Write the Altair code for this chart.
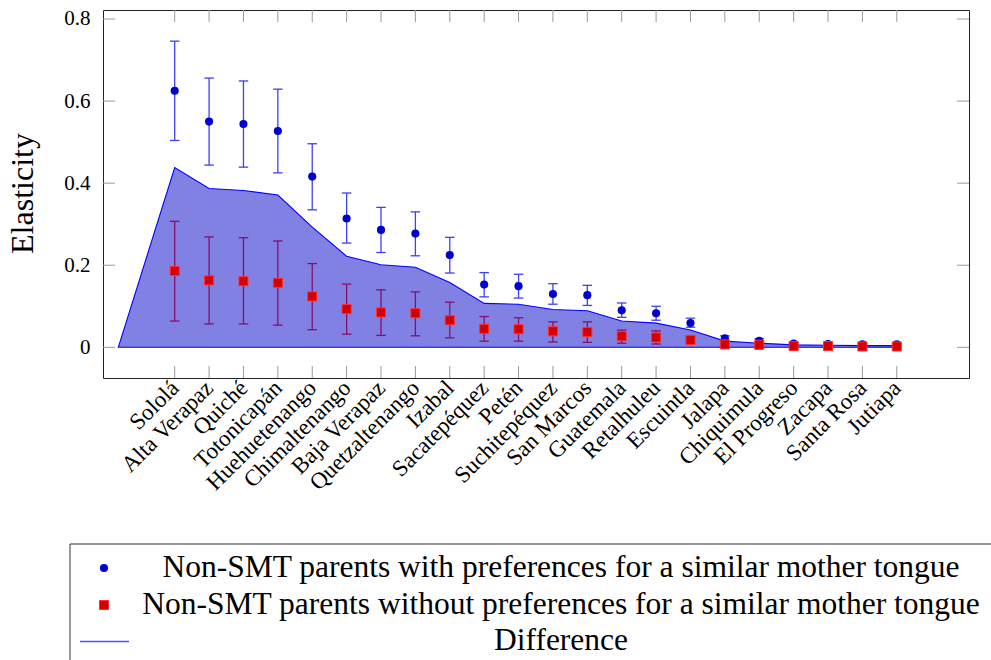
import json
import altair as alt
import pandas as pd

# ---------------- data ----------------
categories = ["Sololá", "Alta Verapaz", "Quiché", "Totonicapán", "Huehuetenango",
              "Chimaltenango", "Baja Verapaz", "Quetzaltenango", "Izabal", "Sacatepéquez",
              "Petén", "Suchitepéquez", "San Marcos", "Guatemala", "Retalhuleu", "Escuintla",
              "Jalapa", "Chiquimula", "El Progreso", "Zacapa", "Santa Rosa", "Jutiapa"]

with_pref = [0.625, 0.550, 0.544, 0.527, 0.416, 0.314, 0.286, 0.277, 0.225, 0.153, 0.149,
             0.130, 0.127, 0.090, 0.083, 0.059, 0.022, 0.016, 0.009, 0.008, 0.007, 0.007]
with_hi = [0.746, 0.656, 0.649, 0.629, 0.496, 0.376, 0.341, 0.330, 0.268, 0.182, 0.178,
           0.155, 0.151, 0.108, 0.100, 0.071, 0.028, 0.021, 0.012, 0.010, 0.009, 0.009]
with_lo = [0.504, 0.444, 0.439, 0.425, 0.335, 0.254, 0.231, 0.223, 0.181, 0.123, 0.120,
           0.105, 0.102, 0.073, 0.066, 0.049, 0.016, 0.011, 0.006, 0.005, 0.005, 0.005]

without_pref = [0.186, 0.163, 0.161, 0.157, 0.124, 0.093, 0.085, 0.083, 0.066, 0.045, 0.044,
                0.039, 0.037, 0.027, 0.024, 0.018, 0.007, 0.006, 0.003, 0.003, 0.002, 0.002]
without_hi = [0.307, 0.269, 0.267, 0.259, 0.204, 0.154, 0.140, 0.135, 0.110, 0.075, 0.072,
              0.062, 0.062, 0.042, 0.040, 0.025, 0.010, 0.009, 0.004, 0.004, 0.003, 0.003]
without_lo = [0.064, 0.057, 0.057, 0.054, 0.043, 0.032, 0.029, 0.028, 0.023, 0.015, 0.015,
              0.013, 0.012, 0.010, 0.008, 0.010, 0.004, 0.003, 0.002, 0.002, 0.001, 0.001]

difference = [0.438, 0.387, 0.382, 0.371, 0.293, 0.222, 0.201, 0.195, 0.158, 0.107, 0.105,
              0.092, 0.089, 0.064, 0.059, 0.042, 0.015, 0.010, 0.006, 0.005, 0.004, 0.004]
difference_start_x = -1.64   # first (zero) point of the Difference area
difference_start_y = 0.0

y_ticks = [0, 0.2, 0.4, 0.6, 0.8]

legend_labels = ["Non-SMT parents with preferences for a similar mother tongue",
                 "Non-SMT parents without preferences for a similar mother tongue",
                 "Difference"]

# ---------------- tables ----------------
n = len(categories)
df = pd.DataFrame({
    "idx": list(range(n)), "cat": categories,
    "with_pref": with_pref, "with_hi": with_hi, "with_lo": with_lo,
    "without_pref": without_pref, "without_hi": without_hi, "without_lo": without_lo,
})
diff_df = pd.DataFrame({"idx": [difference_start_x] + list(range(n)),
                        "diff": [difference_start_y] + difference})
ytick_df = pd.DataFrame({"v": y_ticks})

# ---------------- styling ----------------
FONT = "Liberation Serif"
W, H = 866, 368
BLUE = "#0000d0"
BLUE_BAR = "#4040f0"
RED = "#d40000"
RED_BAR = "#85106a"
AREA_FILL = "#8181e3"
TICK_GRAY = "#9a9a9a"

x_scale = alt.Scale(domain=[-2.085, 23.10], nice=False, zero=False)
y_scale = alt.Scale(domain=[-0.0748, 0.8219], nice=False, zero=False)

label_expr = "[" + ",".join(json.dumps(c) for c in categories) + "][datum.value]"
x_axis = alt.Axis(values=list(range(n)), labelExpr=label_expr, labelAngle=-45,
                  labelAlign="right", labelBaseline="middle", labelFont=FONT,
                  labelFontSize=23, labelColor="black", labelPadding=6,
                  labelOverlap=False, labelFlush=False, ticks=False, domain=False,
                  grid=False, title=None)
y_axis = alt.Axis(values=y_ticks, labelExpr="datum.value == 0 ? '0' : format(datum.value, '.1f')",
                  labelFont=FONT, labelFontSize=21, labelColor="black", labelPadding=13,
                  ticks=False, domain=False, grid=False, title="Elasticity",
                  titleFont=FONT, titleFontSize=32, titleFontWeight="normal",
                  titleColor="black", titleX=-71, titleY=H / 2 - 1, titleAngle=270,
                  titleAlign="center", titleBaseline="alphabetic")


def X(field):
    return alt.X(field, type="quantitative", scale=x_scale, axis=x_axis)


def Y(field):
    return alt.Y(field, type="quantitative", scale=y_scale, axis=y_axis)


base = alt.Chart(df)

area = alt.Chart(diff_df).mark_area(fill=AREA_FILL, fillOpacity=1, stroke="#0000ff",
                                    strokeWidth=1.1).encode(x=X("idx"), y=Y("diff"))

blue_bar = base.mark_rule(color=BLUE_BAR, strokeWidth=1.3).encode(
    x=X("idx"), y=Y("with_lo"), y2="with_hi")
blue_cap_hi = base.mark_tick(orient="horizontal", size=9.5, thickness=1.3, color=BLUE_BAR,
                             opacity=1).encode(x=X("idx"), y=Y("with_hi"))
blue_cap_lo = base.mark_tick(orient="horizontal", size=9.5, thickness=1.3, color=BLUE_BAR,
                             opacity=1).encode(x=X("idx"), y=Y("with_lo"))

red_bar = base.mark_rule(color=RED_BAR, strokeWidth=1.3).encode(
    x=X("idx"), y=Y("without_lo"), y2="without_hi")
red_cap_hi = base.mark_tick(orient="horizontal", size=9.5, thickness=1.3, color=RED_BAR,
                            opacity=1).encode(x=X("idx"), y=Y("without_hi"))
red_cap_lo = base.mark_tick(orient="horizontal", size=9.5, thickness=1.3, color=RED_BAR,
                            opacity=1).encode(x=X("idx"), y=Y("without_lo"))

blue_pts = base.mark_circle(size=66, color=BLUE, opacity=1).encode(x=X("idx"), y=Y("with_pref"))
red_pts = base.mark_square(size=82, color=RED, stroke="#ff3030", strokeWidth=1,
                           opacity=1).encode(x=X("idx"), y=Y("without_pref"))

# inward ticks on all four sides
tick_bottom = base.mark_rule(color=TICK_GRAY, strokeWidth=1).encode(
    x=X("idx"), y=alt.value(H), y2=alt.value(H - 12))
tick_top = base.mark_rule(color=TICK_GRAY, strokeWidth=1).encode(
    x=X("idx"), y=alt.value(0), y2=alt.value(12))
tick_left = alt.Chart(ytick_df).mark_rule(color=TICK_GRAY, strokeWidth=1).encode(
    y=Y("v"), x=alt.value(0), x2=alt.value(12))
tick_right = alt.Chart(ytick_df).mark_rule(color=TICK_GRAY, strokeWidth=1).encode(
    y=Y("v"), x=alt.value(W), x2=alt.value(W - 12))

# ---------------- legend (drawn below the plot) ----------------
one = pd.DataFrame({"k": [0]})
LX0, LY0 = -33, 534
leg_top = alt.Chart(one).mark_rule(color="#333333", strokeWidth=1).encode(
    x=alt.value(LX0), x2=alt.value(W + 30), y=alt.value(LY0))
leg_left = alt.Chart(one).mark_rule(color="#333333", strokeWidth=1).encode(
    x=alt.value(LX0), y=alt.value(LY0), y2=alt.value(H + 282))
leg_circle = alt.Chart(one).mark_circle(size=66, color=BLUE, opacity=1).encode(
    x=alt.value(1), y=alt.value(558))
leg_square = alt.Chart(one).mark_square(size=82, color=RED, stroke="#ff3030", strokeWidth=1,
                                        opacity=1).encode(x=alt.value(1), y=alt.value(595))
leg_line = alt.Chart(one).mark_rule(color="#5050ff", strokeWidth=1.5).encode(
    x=alt.value(-23), x2=alt.value(26), y=alt.value(631.5))

leg_texts = []
for lab, yy in zip(legend_labels, [567, 604, 640]):
    leg_texts.append(
        alt.Chart(pd.DataFrame({"label": [lab]})).mark_text(
            font=FONT, fontSize=31.5, color="black", align="center", baseline="alphabetic"
        ).encode(text="label:N", x=alt.value(458), y=alt.value(yy))
    )

chart = alt.layer(
    area, blue_bar, blue_cap_hi, blue_cap_lo, red_bar, red_cap_hi, red_cap_lo,
    blue_pts, red_pts, tick_bottom, tick_top, tick_left, tick_right,
    leg_top, leg_left, leg_circle, leg_square, leg_line, *leg_texts
).properties(
    width=W, height=H,
    autosize=alt.AutoSizeParams(type="none"),
    padding={"left": 103, "top": 10, "right": 22, "bottom": 282},
    background="white",
).configure_view(stroke="#222222", strokeWidth=1)

chart.save("out.html", embed_options={"renderer": "svg", "actions": False})
